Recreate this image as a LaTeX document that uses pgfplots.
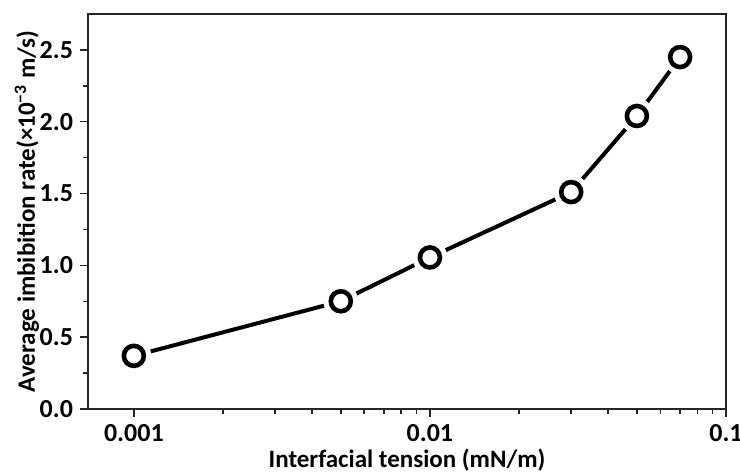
\documentclass[border=0pt]{standalone}
\usepackage{fontspec}
\setmainfont{Carlito}
\usepackage{pgfplots}
\usepackage{pgfplotstable}
\pgfplotsset{compat=1.18}
\pgfplotstableread{
x y
0.001 0.37
0.005 0.75
0.01 1.055
0.03 1.51
0.05 2.04
0.07 2.45
}\ratedata
\begin{document}
\begin{tikzpicture}
\begin{axis}[
  at={(0,0)}, anchor=south west,
  scale only axis, width=319pt, height=197.5pt,
  xmode=log, xmin=0.0007, xmax=0.1,
  ymin=0, ymax=2.75,
  xtick={0.001,0.01,0.1}, xticklabels={0.001,0.01,0.1},
  ytick={0,0.5,1,1.5,2,2.5}, yticklabels={0.0,0.5,1.0,1.5,2.0,2.5},
  minor ytick={0.25,0.75,1.25,1.75,2.25},
  tick align=outside, xtick pos=bottom, ytick pos=left,
  major tick length=4pt, minor tick length=2.5pt,
  every tick/.style={black!85, line width=0.75pt},
  axis line style={black!85, line width=0.75pt},
  ticklabel style={font=\fontsize{13}{15}\selectfont\bfseries},
  every axis x label/.style={at={(axis description cs:0.5,0)}, anchor=center, yshift=-25.5pt, font=\fontsize{12.5}{15}\selectfont\bfseries},
  every axis y label/.style={at={(axis description cs:0,0.5)}, xshift=-30.5pt, rotate=90, anchor=center, font=\fontsize{12.5}{15}\selectfont\bfseries},
  xlabel={Interfacial tension (mN/m)},
  ylabel={Average imbibition rate(×10\textsuperscript{−3} m/s)},
  clip=false,
]
\addplot[black, line width=2pt, no marks] table[x=x,y=y] {\ratedata};
\addplot[only marks, mark=*, mark size=8.5pt, white, mark options={draw=white, fill=white}] table[x=x,y=y] {\ratedata};
\addplot[only marks, mark=o, mark size=5pt, line width=2.3pt, black, mark options={fill=white}] table[x=x,y=y] {\ratedata};
\end{axis}
\pgfresetboundingbox
\path[use as bounding box] (-44pt,-32.5pt) rectangle (326pt,204.5pt);
\end{tikzpicture}
\end{document}
